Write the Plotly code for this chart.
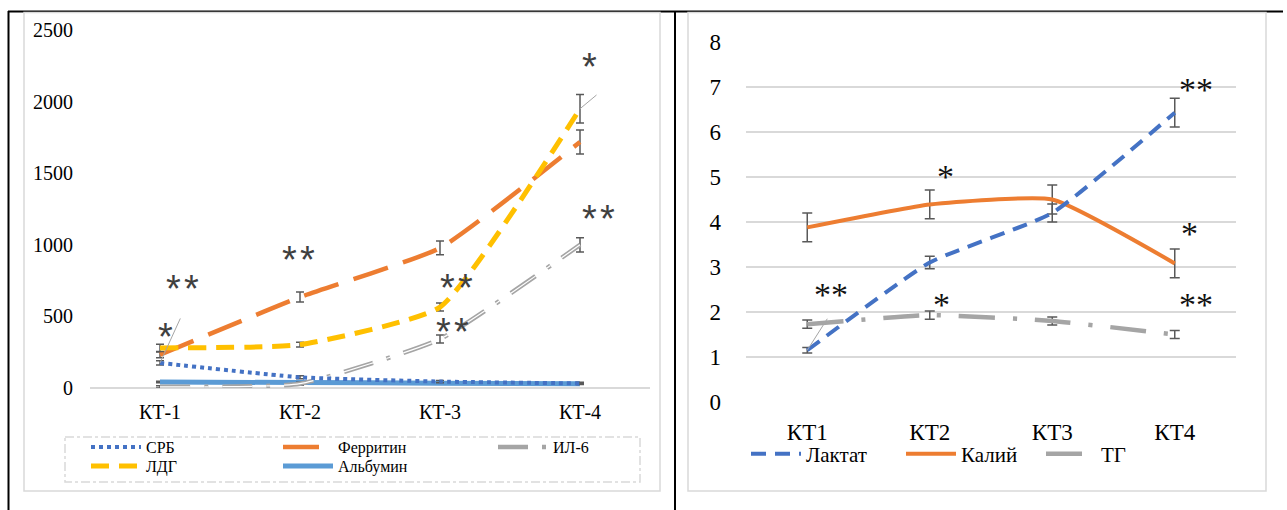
import plotly.graph_objects as go

W, H = 1287, 510

# ---------------- data ----------------
cats_left = ["КТ-1", "КТ-2", "КТ-3", "КТ-4"]
srb = [175, 75, 45, 32]
srb_err = [15, 10, 8, 8]
ferritin = [232, 635, 978, 1718]
ferritin_err = [20, 35, 48, 84]
il6 = [8, 30, 342, 1000]
il6_err = [8, 10, 28, 50]
ldg = [280, 303, 565, 1950]
ldg_err = [25, 17, 28, 100]
albumin = [42, 38, 34, 30]
albumin_err = [5, 4, 4, 4]

cats_right = ["КТ1", "КТ2", "КТ3", "КТ4"]
lactate = [1.15, 3.1, 4.2, 6.43]
lactate_err = [0.06, 0.14, 0.2, 0.32]
kalium = [3.88, 4.39, 4.5, 3.08]
kalium_err = [0.32, 0.32, 0.32, 0.32]
tg = [1.73, 1.93, 1.8, 1.5]
tg_err = [0.09, 0.09, 0.09, 0.09]

left_ticks = [0, 500, 1000, 1500, 2000, 2500]
right_ticks = [0, 1, 2, 3, 4, 5, 6, 7, 8]

# significance marks: (text, category index, value)
left_marks = [("*\u200a*", 0.16, 745), ("*", 0.04, 415), ("*\u200a*", 0.99, 950),
              ("*\u200a*", 2.12, 754), ("*\u200a*", 2.09, 447), ("*", 3.07, 2297),
              ("*\u200a*", 3.13, 1236)]
right_marks = [("**", 0.19, 2.55), ("*", 1.13, 5.16), ("*", 1.10, 2.33),
               ("**", 3.17, 7.11), ("*", 3.12, 3.91), ("**", 3.17, 2.33)]


def fx(x):
    return x / W


def fy(y):
    return (H - y) / H


ERR = "#595959"
SERIF = "Liberation Serif, Times New Roman, Times, serif"
SANS = "Liberation Sans, Arial, sans-serif"
SMOOTH = 0.45

fig = go.Figure()


def err(arr, w):
    return dict(type="data", array=arr, visible=True, color=ERR, thickness=1.5, width=w)


# ----- left chart -----
fig.add_trace(go.Scatter(x=cats_left, y=albumin, name="Альбумин", mode="lines",
                         line=dict(color="#5B9BD5", width=5, shape="spline", smoothing=SMOOTH),
                         error_y=err(albumin_err, 4), legend="legend5",
                         xaxis="x", yaxis="y"))
fig.add_trace(go.Scatter(x=cats_left, y=il6, name="ИЛ-6", mode="lines",
                         line=dict(color="#A5A5A5", width=4.5, shape="spline", smoothing=SMOOTH,
                                   dash="30px,14px,4px,14px"),
                         error_y=err(il6_err, 4), legend="legend3",
                         xaxis="x", yaxis="y"))
fig.add_trace(go.Scatter(x=cats_left, y=il6, name="ИЛ-6", mode="lines", showlegend=False,
                         hoverinfo="skip",
                         line=dict(color="white", width=1.2, shape="spline", smoothing=SMOOTH,
                                   dash="30px,14px,4px,14px"),
                         xaxis="x", yaxis="y"))
fig.add_trace(go.Scatter(x=cats_left, y=srb, name="СРБ", mode="lines",
                         line=dict(color="#4472C4", width=4, shape="spline", smoothing=SMOOTH,
                                   dash="dot"),
                         error_y=err(srb_err, 4), legend="legend",
                         xaxis="x", yaxis="y"))
fig.add_trace(go.Scatter(x=cats_left, y=ferritin, name="Ферритин", mode="lines",
                         line=dict(color="#ED7D31", width=4.5, shape="spline", smoothing=SMOOTH,
                                   dash="36px,16px"),
                         error_y=err(ferritin_err, 4), legend="legend2",
                         xaxis="x", yaxis="y"))
fig.add_trace(go.Scatter(x=cats_left, y=ldg, name="ЛДГ", mode="lines",
                         line=dict(color="#FFC000", width=5, shape="spline", smoothing=SMOOTH,
                                   dash="18px,10px"),
                         error_y=err(ldg_err, 4), legend="legend4",
                         xaxis="x", yaxis="y"))

# ----- right chart -----
fig.add_trace(go.Scatter(x=cats_right, y=tg, name="ТГ", mode="lines",
                         line=dict(color="#A5A5A5", width=4.5, shape="spline", smoothing=SMOOTH,
                                   dash="36px,18px,4px,18px"),
                         error_y=err(tg_err, 5), legend="legend8",
                         xaxis="x2", yaxis="y2"))
fig.add_trace(go.Scatter(x=cats_right, y=kalium, name="Калий", mode="lines",
                         line=dict(color="#ED7D31", width=4, shape="spline", smoothing=SMOOTH),
                         error_y=err(kalium_err, 5), legend="legend7",
                         xaxis="x2", yaxis="y2"))
fig.add_trace(go.Scatter(x=cats_right, y=lactate, name="Лактат", mode="lines",
                         line=dict(color="#4472C4", width=4, shape="spline", smoothing=SMOOTH,
                                   dash="15px,9px"),
                         error_y=err(lactate_err, 5), legend="legend6",
                         xaxis="x2", yaxis="y2"))

# ----- annotations -----
anns = []
for t, xi, yv in left_marks:
    anns.append(dict(text=t, x=xi, y=yv, xref="x", yref="y", showarrow=False,
                     xanchor="center", yanchor="middle", yshift=-8,
                     font=dict(family=SANS, size=38, color="#404040")))
for t, xi, yv in right_marks:
    anns.append(dict(text=t, x=xi, y=yv, xref="x2", yref="y2", showarrow=False,
                     xanchor="center", yanchor="middle", yshift=-7,
                     font=dict(family=SERIF, size=34, color="#111111")))
# leader lines
anns.append(dict(text="", x=0, y=srb[0], xref="x", yref="y", showarrow=True,
                 arrowhead=0, arrowwidth=1, arrowcolor="#A5A5A5", ax=21, ay=-46, standoff=0))
anns.append(dict(text="", x=3, y=ldg[3], xref="x", yref="y", showarrow=True,
                 arrowhead=0, arrowwidth=1, arrowcolor="#A5A5A5", ax=18, ay=-15, standoff=0))
anns.append(dict(text="", x=0, y=lactate[0], xref="x2", yref="y2", showarrow=True,
                 arrowhead=0, arrowwidth=1, arrowcolor="#A5A5A5", ax=21, ay=-33, standoff=0))

# ----- shapes: table frame, chart frames, legend box -----
shapes = [
    dict(type="line", xref="paper", yref="paper", x0=fx(8), x1=fx(1283), y0=fy(11.5), y1=fy(11.5),
         line=dict(color="black", width=2)),
    dict(type="line", xref="paper", yref="paper", x0=fx(8.5), x1=fx(8.5), y0=fy(11), y1=fy(510),
         line=dict(color="black", width=2)),
    dict(type="line", xref="paper", yref="paper", x0=fx(675), x1=fx(675), y0=fy(11), y1=fy(510),
         line=dict(color="black", width=2)),
    dict(type="rect", xref="paper", yref="paper", x0=fx(24), x1=fx(660), y0=fy(12.5), y1=fy(491),
         line=dict(color="#D9D9D9", width=1.5)),
    dict(type="rect", xref="paper", yref="paper", x0=fx(688), x1=fx(1266), y0=fy(12.5), y1=fy(491),
         line=dict(color="#D9D9D9", width=1.5)),
    dict(type="rect", xref="paper", yref="paper", x0=fx(65), x1=fx(640), y0=fy(437), y1=fy(482),
         line=dict(color="#D9D9D9", width=1.5, dash="dashdot")),
]

axis_font_l = dict(family=SERIF, size=20, color="black")
axis_font_r = dict(family=SERIF, size=23, color="black")

layout = dict(
    width=W, height=H, margin=dict(l=0, r=0, t=0, b=0, autoexpand=False),
    paper_bgcolor="white", plot_bgcolor="white",
    xaxis=dict(domain=[fx(90), fx(650)], type="category", range=[-0.5, 3.5],
               showgrid=False, showline=False, ticks="", tickfont=axis_font_l,
               ticklabelstandoff=10, zeroline=False, automargin=False),
    yaxis=dict(domain=[fy(388), fy(30)], range=[0, 2500], tickvals=left_ticks,
               showgrid=False, showline=False, ticks="", tickfont=axis_font_l,
               zeroline=True, zerolinecolor="#D9D9D9", zerolinewidth=1.5,
               ticklabelstandoff=16, automargin=False),
    xaxis2=dict(domain=[fx(746), fx(1236)], type="category", range=[-0.5, 3.5],
                showgrid=False, showline=False, ticks="", tickfont=axis_font_r,
                ticklabelstandoff=14, zeroline=False, anchor="y2", automargin=False),
    yaxis2=dict(domain=[fy(402), fy(42)], range=[0, 8], tickvals=right_ticks,
                showgrid=True, gridcolor="#D9D9D9", gridwidth=1.5, showline=False,
                ticks="", tickfont=axis_font_r, zeroline=False, anchor="x2",
                ticklabelstandoff=24, automargin=False),
    annotations=anns, shapes=shapes,
)


def leg(text_x, row_y, size):
    return dict(x=fx(text_x - 62), y=fy(row_y), xanchor="left", yanchor="middle",
                orientation="v", bgcolor="rgba(0,0,0,0)", borderwidth=0,
                itemwidth=50, font=dict(family=SERIF, size=size, color="black"))


layout["legend"] = leg(148, 447, 16)
layout["legend2"] = leg(340, 447, 16)
layout["legend3"] = leg(555, 447, 16)
layout["legend4"] = leg(148, 466, 16)
layout["legend5"] = leg(340, 466, 16)
layout["legend6"] = leg(808, 454, 21)
layout["legend7"] = leg(963, 454, 21)
layout["legend8"] = leg(1103, 454, 21)

fig.update_layout(**layout)
fig.write_html("out.html", config={"displayModeBar": False},
               post_script="document.body.style.margin='0';document.body.style.overflow='hidden';")
